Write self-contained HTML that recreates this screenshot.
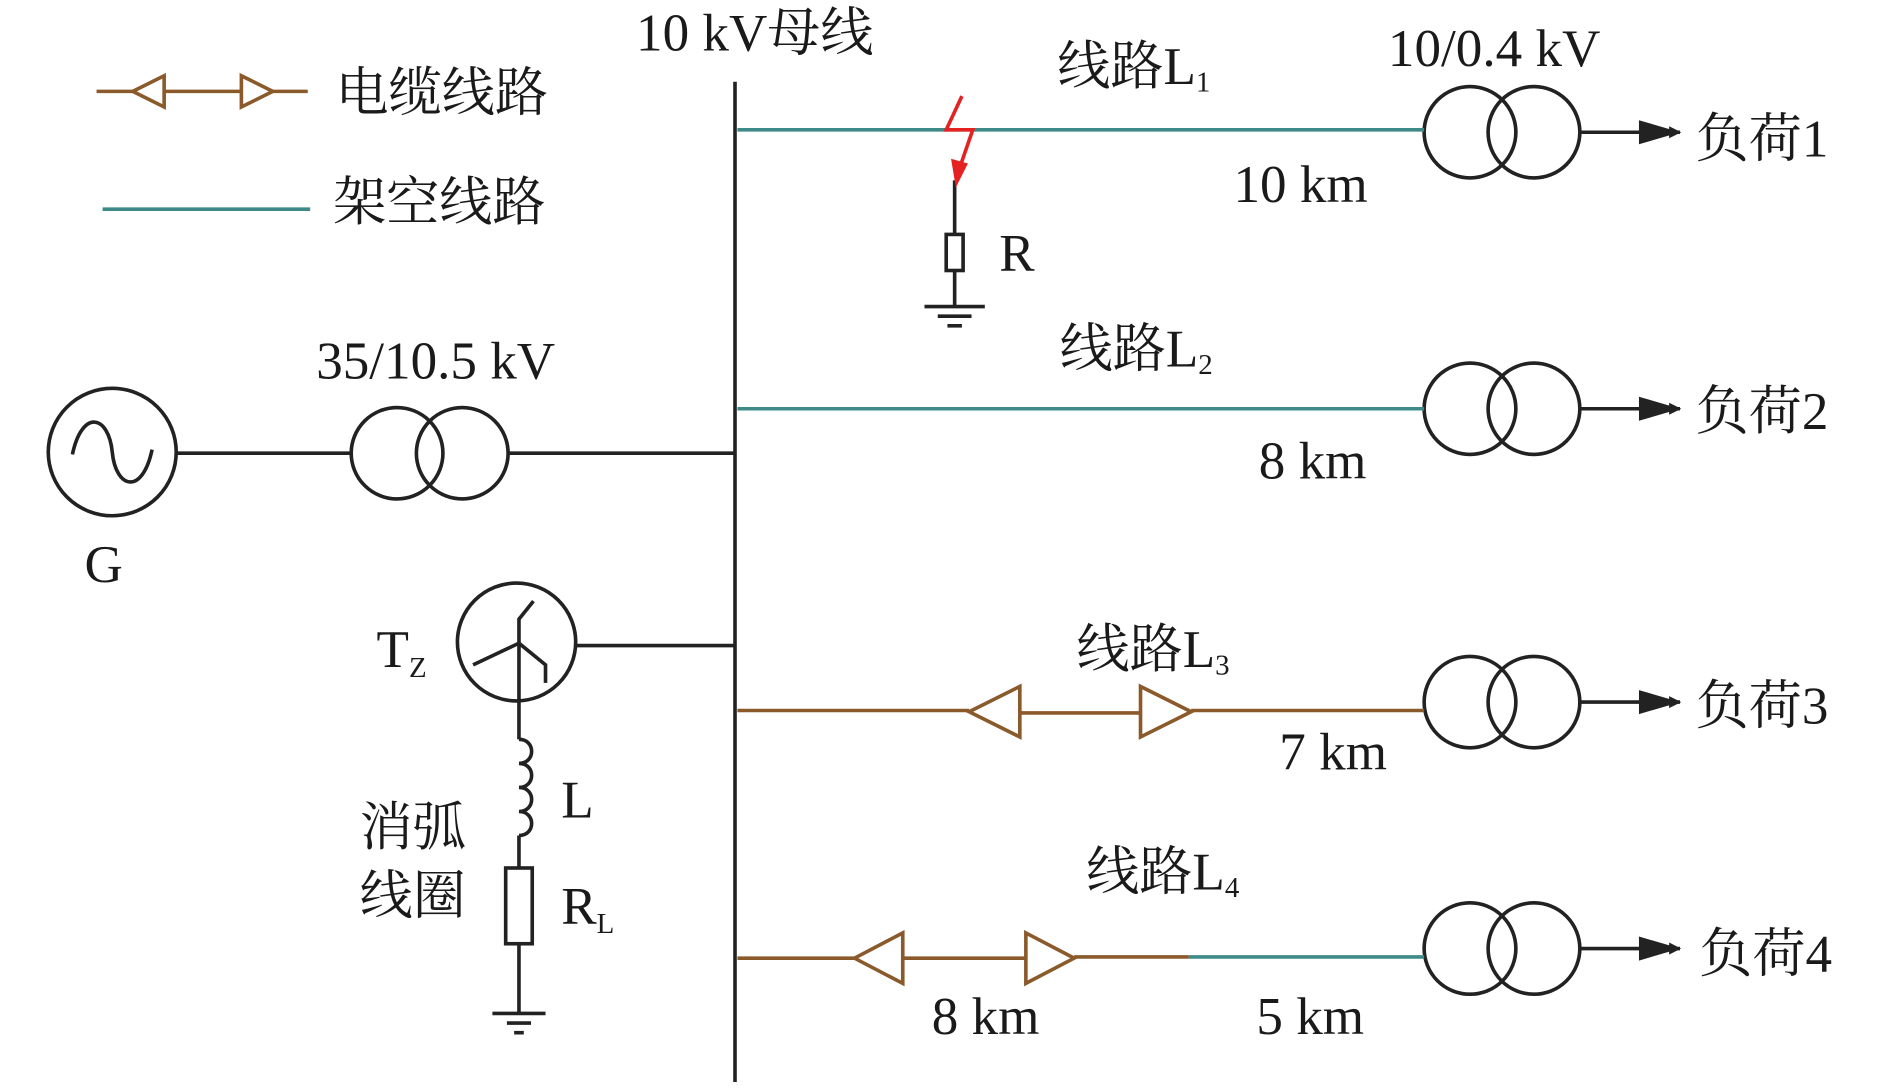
<!DOCTYPE html>
<html><head><meta charset="utf-8"><style>html,body{margin:0;padding:0;background:#fff}svg{display:block}</style></head>
<body>
<svg width="1890" height="1088" viewBox="0 0 1566 905" preserveAspectRatio="none" xmlns="http://www.w3.org/2000/svg" font-family="'Liberation Serif','Noto Serif CJK SC',serif" font-size="44" fill="#1a1a1a">
<defs><marker id="ah" markerWidth="10" markerHeight="10" refX="9" refY="5" orient="auto" markerUnits="userSpaceOnUse"><path d="M0,0 L10,5 L0,10z" fill="#222"/></marker></defs>
<g stroke="#222" stroke-width="3" fill="none">
<line x1="609" y1="68" x2="609" y2="900"/>
<circle cx="1218" cy="110" r="38"/><circle cx="1271" cy="110" r="38"/>
<circle cx="1218" cy="340" r="38"/><circle cx="1271" cy="340" r="38"/>
<circle cx="1218" cy="584" r="38"/><circle cx="1271" cy="584" r="38"/>
<circle cx="1218" cy="789" r="38"/><circle cx="1271" cy="789" r="38"/>
<circle cx="329" cy="377" r="38"/><circle cx="383" cy="377" r="38"/>
<circle cx="93" cy="376" r="53"/>
<path d="M60,378 C68,340 90,345 93,376 C96,407 118,412 126,374"/>
<line x1="146" y1="377" x2="291" y2="377"/><line x1="422" y1="377" x2="609" y2="377"/>
<circle cx="428" cy="534" r="49"/>
<line x1="477" y1="537" x2="609" y2="537"/>
<path d="M430,582 V535 L392,553 M430,535 L452,553 L452,568 M430,535 V515 L442,500"/>
<line x1="430" y1="583" x2="430" y2="615"/>
<path d="M430,615 c14,0 14,20 0,20 c14,0 14,20 0,20 c14,0 14,20 0,20 c14,0 14,20 0,20"/>
<line x1="430" y1="695" x2="430" y2="722"/>
<rect x="419" y="722" width="22" height="63"/>
<line x1="430" y1="785" x2="430" y2="843"/>
<line x1="408" y1="843" x2="452" y2="843"/><line x1="420" y1="851" x2="440" y2="851"/><line x1="426" y1="859" x2="434" y2="859"/>
<line x1="791" y1="150" x2="791" y2="195"/>
<rect x="784" y="195" width="14" height="30"/>
<line x1="791" y1="225" x2="791" y2="255"/>
<line x1="766" y1="255" x2="816" y2="255"/><line x1="777" y1="263" x2="805" y2="263"/><line x1="785" y1="271" x2="797" y2="271"/>
<line x1="1310" y1="110" x2="1392" y2="110" marker-end="url(#ah)"/>
<line x1="1310" y1="340" x2="1392" y2="340" marker-end="url(#ah)"/>
<line x1="1310" y1="584" x2="1392" y2="584" marker-end="url(#ah)"/>
<line x1="1310" y1="789" x2="1392" y2="789" marker-end="url(#ah)"/>
</g>
<path d="M1358,100 L1392,110 L1358,120z M1358,330 L1392,340 L1358,350z M1358,574 L1392,584 L1358,594z M1358,779 L1392,789 L1358,799z" fill="#222"/>
<g stroke="#3d8a86" stroke-width="3" fill="none">
<line x1="611" y1="108" x2="1180" y2="108"/>
<line x1="611" y1="340" x2="1180" y2="340"/>
<line x1="985" y1="796" x2="1180" y2="796"/>
<line x1="85" y1="174" x2="257" y2="174"/>
</g>
<g stroke="#8b5a2b" stroke-width="3" fill="none">
<line x1="611" y1="591" x2="803" y2="591"/><line x1="845" y1="593" x2="945" y2="593"/><line x1="987" y1="591" x2="1180" y2="591"/>
<path d="M803,592 L845,571 L845,613z M945,571 L987,592 L945,613z" fill="#fff"/>
<line x1="611" y1="797" x2="708" y2="797"/><line x1="748" y1="797" x2="850" y2="797"/><line x1="890" y1="796" x2="985" y2="796"/>
<path d="M708,797 L748,776 L748,818z M850,776 L890,797 L850,818z" fill="#fff"/>
<line x1="80" y1="76" x2="110" y2="76"/><line x1="136" y1="76" x2="200" y2="76"/><line x1="226" y1="76" x2="255" y2="76"/>
<path d="M110,76 L136,63 L136,89z M200,63 L226,76 L200,89z" fill="#fff"/>
</g>
<path d="M797,80 L784,108 L806,108 L795,140" stroke="#e52222" stroke-width="3" fill="none"/>
<path d="M788,132 L802,136 L792,156z" fill="#e52222"/>
<text x="527" y="42">10 kV母线</text>
<text x="278" y="92">电缆线路</text>
<text x="276" y="183">架空线路</text>
<text x="876" y="70">线路L<tspan font-size="24" dy="6">1</tspan></text>
<text x="1150" y="55">10/0.4 kV</text>
<text x="1022" y="168">10 km</text>
<text x="1405" y="130">负荷1</text>
<text x="828" y="225">R</text>
<text x="878" y="305">线路L<tspan font-size="24" dy="6">2</tspan></text>
<text x="1043" y="398">8 km</text>
<text x="1405" y="357">负荷2</text>
<text x="262" y="315">35/10.5 kV</text>
<text x="70" y="484">G</text>
<text x="312" y="555">T<tspan font-size="24" dy="8">Z</tspan></text>
<text x="892" y="555">线路L<tspan font-size="24" dy="6">3</tspan></text>
<text x="1060" y="640">7 km</text>
<text x="1405" y="602">负荷3</text>
<text x="465" y="680">L</text>
<text x="298" y="703">消弧</text>
<text x="298" y="760">线圈</text>
<text x="465" y="768">R<tspan font-size="24" dy="8">L</tspan></text>
<text x="900" y="740">线路L<tspan font-size="24" dy="6">4</tspan></text>
<text x="772" y="860">8 km</text>
<text x="1041" y="860">5 km</text>
<text x="1408" y="808">负荷4</text>
</svg>
</body></html>
